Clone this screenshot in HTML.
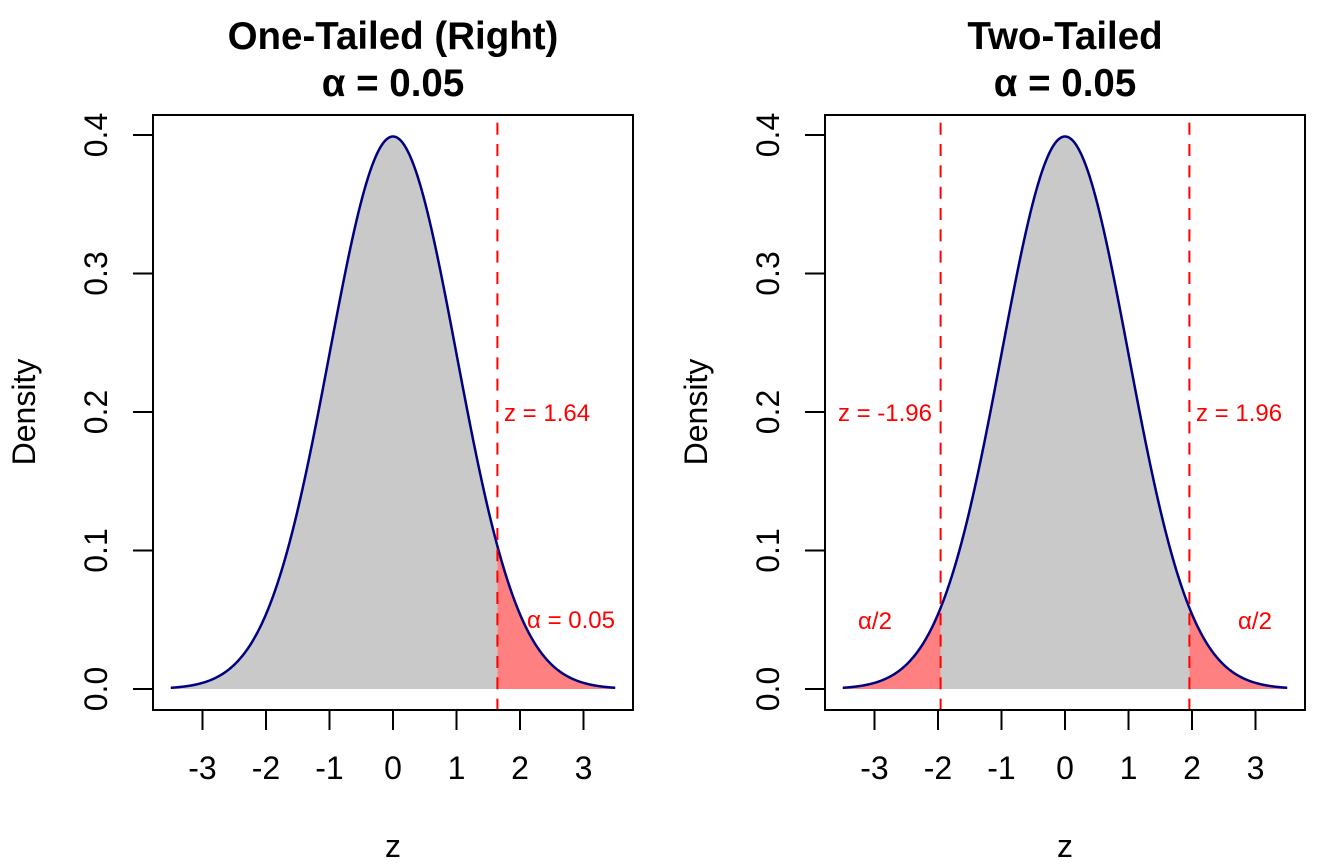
<!DOCTYPE html>
<html><head><meta charset="utf-8">
<style>
html,body{margin:0;padding:0;background:#fff;}
svg{display:block;font-family:"Liberation Sans",Arial,Helvetica,sans-serif;}
</style></head>
<body>
<svg width="1344" height="864" viewBox="0 0 1344 864" xmlns="http://www.w3.org/2000/svg">
<rect x="0" y="0" width="1344" height="864" fill="#fff"/>

<!-- LEFT PANEL -->
<g>
  <path id="g1" fill="#c9c9c9" stroke="none" d="M170.8,687.8L186.7,686.2L202.5,682.9L218.4,676.4L234.3,664.7L250.1,645L266,614.2L281.9,569.5L297.8,509.6L313.6,436L329.5,353.9L345.4,271.9L361.3,201.4L377.1,153.5L393,136.5L408.9,153.5L424.7,201.4L440.6,271.9L456.5,353.9L472.4,436L488.2,509.6L497.4,546.2L497.4,689L170.8,689Z"/>
  <path id="r1" fill="#ff8080" stroke="none" d="M497.4,546.2L504.1,569.5L520,614.2L535.9,645L551.7,664.7L567.6,676.4L583.5,682.9L599.3,686.2L615.2,687.8L615.2,689L497.4,689Z"/>
  <path id="c1" fill="none" stroke="#000080" stroke-width="2.5" stroke-linejoin="round" d="M170.8,687.8L186.7,686.2L202.5,682.9L218.4,676.4L234.3,664.7L250.1,645L266,614.2L281.9,569.5L297.8,509.6L313.6,436L329.5,353.9L345.4,271.9L361.3,201.4L377.1,153.5L393,136.5L408.9,153.5L424.7,201.4L440.6,271.9L456.5,353.9L472.4,436L488.2,509.6L504.1,569.5L520,614.2L535.9,645L551.7,664.7L567.6,676.4L583.5,682.9L599.3,686.2L615.2,687.8"/>
  <line x1="497.4" y1="116" x2="497.4" y2="710" stroke="#ff0000" stroke-width="2" stroke-dasharray="12 9.33" stroke-dashoffset="14.63"/>
  <rect x="153" y="115" width="480" height="595" fill="none" stroke="#000" stroke-width="2"/>
  <g stroke="#000" stroke-width="2">
    <line x1="202.5" y1="710" x2="202.5" y2="730"/>
    <line x1="266" y1="710" x2="266" y2="730"/>
    <line x1="329.5" y1="710" x2="329.5" y2="730"/>
    <line x1="393" y1="710" x2="393" y2="730"/>
    <line x1="456.5" y1="710" x2="456.5" y2="730"/>
    <line x1="520" y1="710" x2="520" y2="730"/>
    <line x1="583.5" y1="710" x2="583.5" y2="730"/>
    <line x1="133" y1="689" x2="153" y2="689"/>
    <line x1="133" y1="550.5" x2="153" y2="550.5"/>
    <line x1="133" y1="412" x2="153" y2="412"/>
    <line x1="133" y1="273.5" x2="153" y2="273.5"/>
    <line x1="133" y1="135" x2="153" y2="135"/>
  </g>
  <g font-size="32" fill="#000" text-anchor="middle">
    <text x="202.5" y="779">-3</text>
    <text x="266" y="779">-2</text>
    <text x="329.5" y="779">-1</text>
    <text x="393" y="779">0</text>
    <text x="456.5" y="779">1</text>
    <text x="520" y="779">2</text>
    <text x="583.5" y="779">3</text>
    <text transform="translate(107,689) rotate(-90)">0.0</text>
    <text transform="translate(107,550.5) rotate(-90)">0.1</text>
    <text transform="translate(107,412) rotate(-90)">0.2</text>
    <text transform="translate(107,273.5) rotate(-90)">0.3</text>
    <text transform="translate(107,135) rotate(-90)">0.4</text>
    <text transform="translate(35,412) rotate(-90)">Density</text>
    <text x="393" y="857">z</text>
  </g>
  <g font-size="38.5" font-weight="bold" fill="#000" text-anchor="middle">
    <text x="393" y="49">One-Tailed (Right)</text>
    <text x="393" y="96">α = 0.05</text>
  </g>
  <g font-size="24" fill="#ff0000">
    <text x="504" y="421">z = 1.64</text>
    <text x="571" y="628" text-anchor="middle">α = 0.05</text>
  </g>
</g>

<!-- RIGHT PANEL -->
<g>
  <path id="g2" fill="#c9c9c9" stroke="none" d="M940.6,608.1L954,569.5L969.8,509.6L985.6,436L1001.5,353.9L1017.4,271.9L1033.3,201.4L1049.1,153.5L1065,136.5L1080.9,153.5L1096.7,201.4L1112.6,271.9L1128.5,353.9L1144.4,436L1160.2,509.6L1176,569.5L1189.4,608.1L1189.4,689L940.6,689Z"/>
  <path id="r2a" fill="#ff8080" stroke="none" d="M842.8,687.8L858.7,686.2L874.5,682.9L890.4,676.4L906.3,664.7L922.1,645L938,614.2L940.6,608.1L940.6,689L842.8,689Z"/>
  <path id="r2b" fill="#ff8080" stroke="none" d="M1189.4,608.1L1192,614.2L1207.9,645L1223.7,664.7L1239.6,676.4L1255.5,682.9L1271.3,686.2L1287.2,687.8L1287.2,689L1189.4,689Z"/>
  <path id="c2" fill="none" stroke="#000080" stroke-width="2.5" stroke-linejoin="round" d="M842.8,687.8L858.7,686.2L874.5,682.9L890.4,676.4L906.3,664.7L922.1,645L938,614.2L953.9,569.5L969.8,509.6L985.6,436L1001.5,353.9L1017.4,271.9L1033.3,201.4L1049.1,153.5L1065,136.5L1080.9,153.5L1096.7,201.4L1112.6,271.9L1128.5,353.9L1144.4,436L1160.2,509.6L1176.1,569.5L1192,614.2L1207.9,645L1223.7,664.7L1239.6,676.4L1255.5,682.9L1271.3,686.2L1287.2,687.8"/>
  <line x1="940.6" y1="116" x2="940.6" y2="710" stroke="#ff0000" stroke-width="2" stroke-dasharray="12 9.33" stroke-dashoffset="14.63"/>
  <line x1="1189.4" y1="116" x2="1189.4" y2="710" stroke="#ff0000" stroke-width="2" stroke-dasharray="12 9.33" stroke-dashoffset="14.63"/>
  <rect x="825" y="115" width="480" height="595" fill="none" stroke="#000" stroke-width="2"/>
  <g stroke="#000" stroke-width="2">
    <line x1="874.5" y1="710" x2="874.5" y2="730"/>
    <line x1="938" y1="710" x2="938" y2="730"/>
    <line x1="1001.5" y1="710" x2="1001.5" y2="730"/>
    <line x1="1065" y1="710" x2="1065" y2="730"/>
    <line x1="1128.5" y1="710" x2="1128.5" y2="730"/>
    <line x1="1192" y1="710" x2="1192" y2="730"/>
    <line x1="1255.5" y1="710" x2="1255.5" y2="730"/>
    <line x1="805" y1="689" x2="825" y2="689"/>
    <line x1="805" y1="550.5" x2="825" y2="550.5"/>
    <line x1="805" y1="412" x2="825" y2="412"/>
    <line x1="805" y1="273.5" x2="825" y2="273.5"/>
    <line x1="805" y1="135" x2="825" y2="135"/>
  </g>
  <g font-size="32" fill="#000" text-anchor="middle">
    <text x="874.5" y="779">-3</text>
    <text x="938" y="779">-2</text>
    <text x="1001.5" y="779">-1</text>
    <text x="1065" y="779">0</text>
    <text x="1128.5" y="779">1</text>
    <text x="1192" y="779">2</text>
    <text x="1255.5" y="779">3</text>
    <text transform="translate(779,689) rotate(-90)">0.0</text>
    <text transform="translate(779,550.5) rotate(-90)">0.1</text>
    <text transform="translate(779,412) rotate(-90)">0.2</text>
    <text transform="translate(779,273.5) rotate(-90)">0.3</text>
    <text transform="translate(779,135) rotate(-90)">0.4</text>
    <text transform="translate(707,412) rotate(-90)">Density</text>
    <text x="1065" y="857">z</text>
  </g>
  <g font-size="38.5" font-weight="bold" fill="#000" text-anchor="middle">
    <text x="1065" y="49">Two-Tailed</text>
    <text x="1065" y="96">α = 0.05</text>
  </g>
  <g font-size="24" fill="#ff0000">
    <text x="932" y="421" text-anchor="end">z = -1.96</text>
    <text x="1196" y="421">z = 1.96</text>
    <text x="875" y="629" text-anchor="middle">α/2</text>
    <text x="1255" y="629" text-anchor="middle">α/2</text>
  </g>
</g>
</svg>
<script>
(function(){
  function dn(z){return 0.3989423*Math.exp(-z*z/2);}
  function cur(ox,a,b){var s='',n=Math.max(2,Math.round((b-a)/0.01));for(var i=0;i<=n;i++){var z=a+(b-a)*i/n;var x=ox+63.49*z,y=689-1385*dn(z);s+=(i?'L':'M')+x.toFixed(2)+','+y.toFixed(2);}return s;}
  function area(ox,a,b){return cur(ox,a,b)+'L'+(ox+63.49*b).toFixed(2)+',689L'+(ox+63.49*a).toFixed(2)+',689Z';}
  function set(id,d){var e=document.getElementById(id);if(e)e.setAttribute('d',d);}
  set('g1',area(393,-3.5,1.645));
  set('r1',area(393,1.645,3.5));
  set('c1',cur(393,-3.5,3.5));
  set('g2',area(1065,-1.96,1.96));
  set('r2a',area(1065,-3.5,-1.96));
  set('r2b',area(1065,1.96,3.5));
  set('c2',cur(1065,-3.5,3.5));
})();
</script>
</body></html>
